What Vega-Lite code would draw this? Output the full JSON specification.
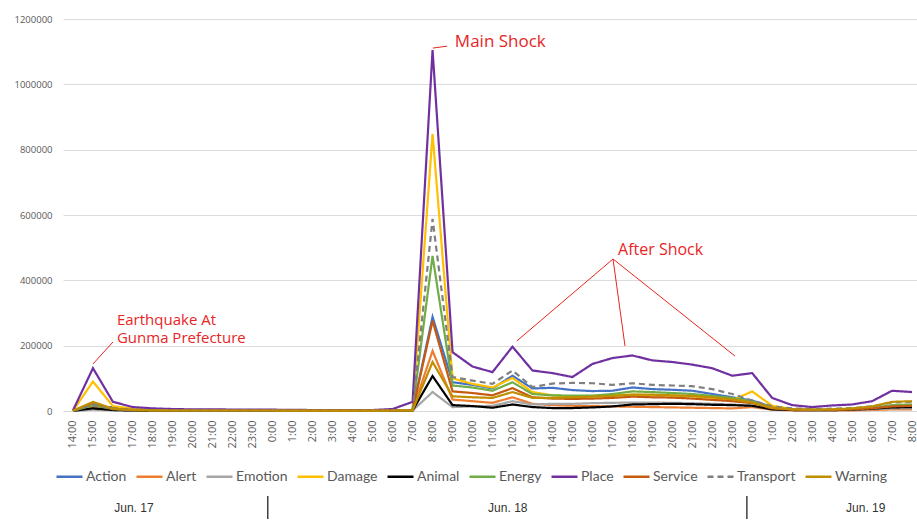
{
"$schema": "https://vega.github.io/schema/vega-lite/v6.json",
"padding": {"left": 5, "top": 14, "right": 0, "bottom": 0},
"background": "white",
"width": 854, "height": 392,
"config": {"view": {"stroke": null}, "font": "Open Sans",
  "legend": {"orient": "none", "legendX": -8, "legendY": 443, "direction": "horizontal", "columns": 10, "symbolType": "stroke", "symbolSize": 676, "symbolStrokeWidth": 2.5, "labelFont": "Lato", "labelFontSize": 14, "labelColor": "#595959", "columnPadding": 4, "labelOffset": 2}},
"layer": [
{
"data": {"values": [
{"t":"2018-06-17T14:00","s":"Action","v":500},{"t":"2018-06-17T15:00","s":"Action","v":12000},{"t":"2018-06-17T16:00","s":"Action","v":12000},{"t":"2018-06-17T17:00","s":"Action","v":4000},{"t":"2018-06-17T18:00","s":"Action","v":2500},{"t":"2018-06-17T19:00","s":"Action","v":2000},{"t":"2018-06-17T20:00","s":"Action","v":2000},{"t":"2018-06-17T21:00","s":"Action","v":2000},{"t":"2018-06-17T22:00","s":"Action","v":2000},{"t":"2018-06-17T23:00","s":"Action","v":2000},
{"t":"2018-06-18T00:00","s":"Action","v":2000},{"t":"2018-06-18T01:00","s":"Action","v":1500},{"t":"2018-06-18T02:00","s":"Action","v":1500},{"t":"2018-06-18T03:00","s":"Action","v":1500},{"t":"2018-06-18T04:00","s":"Action","v":1500},{"t":"2018-06-18T05:00","s":"Action","v":1500},{"t":"2018-06-18T06:00","s":"Action","v":2000},{"t":"2018-06-18T07:00","s":"Action","v":2000},{"t":"2018-06-18T08:00","s":"Action","v":288000},{"t":"2018-06-18T09:00","s":"Action","v":88000},{"t":"2018-06-18T10:00","s":"Action","v":80000},{"t":"2018-06-18T11:00","s":"Action","v":69000},{"t":"2018-06-18T12:00","s":"Action","v":108000},{"t":"2018-06-18T13:00","s":"Action","v":69000},{"t":"2018-06-18T14:00","s":"Action","v":71000},{"t":"2018-06-18T15:00","s":"Action","v":64000},{"t":"2018-06-18T16:00","s":"Action","v":61000},{"t":"2018-06-18T17:00","s":"Action","v":62000},{"t":"2018-06-18T18:00","s":"Action","v":72000},{"t":"2018-06-18T19:00","s":"Action","v":67000},{"t":"2018-06-18T20:00","s":"Action","v":65000},{"t":"2018-06-18T21:00","s":"Action","v":62000},{"t":"2018-06-18T22:00","s":"Action","v":52000},{"t":"2018-06-18T23:00","s":"Action","v":42000},
{"t":"2018-06-19T00:00","s":"Action","v":32000},{"t":"2018-06-19T01:00","s":"Action","v":12000},{"t":"2018-06-19T02:00","s":"Action","v":5000},{"t":"2018-06-19T03:00","s":"Action","v":3000},{"t":"2018-06-19T04:00","s":"Action","v":3000},{"t":"2018-06-19T05:00","s":"Action","v":4000},{"t":"2018-06-19T06:00","s":"Action","v":7000},{"t":"2018-06-19T07:00","s":"Action","v":12000},{"t":"2018-06-19T08:00","s":"Action","v":12000},

{"t":"2018-06-17T14:00","s":"Alert","v":300},{"t":"2018-06-17T15:00","s":"Alert","v":10000},{"t":"2018-06-17T16:00","s":"Alert","v":4000},{"t":"2018-06-17T17:00","s":"Alert","v":2000},{"t":"2018-06-17T18:00","s":"Alert","v":1500},{"t":"2018-06-17T19:00","s":"Alert","v":1000},{"t":"2018-06-17T20:00","s":"Alert","v":1000},{"t":"2018-06-17T21:00","s":"Alert","v":1000},{"t":"2018-06-17T22:00","s":"Alert","v":1000},{"t":"2018-06-17T23:00","s":"Alert","v":1000},
{"t":"2018-06-18T00:00","s":"Alert","v":1000},{"t":"2018-06-18T01:00","s":"Alert","v":800},{"t":"2018-06-18T02:00","s":"Alert","v":800},{"t":"2018-06-18T03:00","s":"Alert","v":800},{"t":"2018-06-18T04:00","s":"Alert","v":800},{"t":"2018-06-18T05:00","s":"Alert","v":800},{"t":"2018-06-18T06:00","s":"Alert","v":1000},{"t":"2018-06-18T07:00","s":"Alert","v":2000},{"t":"2018-06-18T08:00","s":"Alert","v":184000},{"t":"2018-06-18T09:00","s":"Alert","v":35000},{"t":"2018-06-18T10:00","s":"Alert","v":30000},{"t":"2018-06-18T11:00","s":"Alert","v":25000},{"t":"2018-06-18T12:00","s":"Alert","v":42000},{"t":"2018-06-18T13:00","s":"Alert","v":22000},{"t":"2018-06-18T14:00","s":"Alert","v":18000},{"t":"2018-06-18T15:00","s":"Alert","v":16000},{"t":"2018-06-18T16:00","s":"Alert","v":15000},{"t":"2018-06-18T17:00","s":"Alert","v":14000},{"t":"2018-06-18T18:00","s":"Alert","v":13000},{"t":"2018-06-18T19:00","s":"Alert","v":12000},{"t":"2018-06-18T20:00","s":"Alert","v":11000},{"t":"2018-06-18T21:00","s":"Alert","v":10000},{"t":"2018-06-18T22:00","s":"Alert","v":9000},{"t":"2018-06-18T23:00","s":"Alert","v":8000},
{"t":"2018-06-19T00:00","s":"Alert","v":12000},{"t":"2018-06-19T01:00","s":"Alert","v":4000},{"t":"2018-06-19T02:00","s":"Alert","v":2000},{"t":"2018-06-19T03:00","s":"Alert","v":1500},{"t":"2018-06-19T04:00","s":"Alert","v":1500},{"t":"2018-06-19T05:00","s":"Alert","v":2000},{"t":"2018-06-19T06:00","s":"Alert","v":3000},{"t":"2018-06-19T07:00","s":"Alert","v":5000},{"t":"2018-06-19T08:00","s":"Alert","v":5000},

{"t":"2018-06-17T14:00","s":"Emotion","v":200},{"t":"2018-06-17T15:00","s":"Emotion","v":4000},{"t":"2018-06-17T16:00","s":"Emotion","v":2000},{"t":"2018-06-17T17:00","s":"Emotion","v":1000},{"t":"2018-06-17T18:00","s":"Emotion","v":800},{"t":"2018-06-17T19:00","s":"Emotion","v":600},{"t":"2018-06-17T20:00","s":"Emotion","v":600},{"t":"2018-06-17T21:00","s":"Emotion","v":600},{"t":"2018-06-17T22:00","s":"Emotion","v":600},{"t":"2018-06-17T23:00","s":"Emotion","v":600},
{"t":"2018-06-18T00:00","s":"Emotion","v":500},{"t":"2018-06-18T01:00","s":"Emotion","v":500},{"t":"2018-06-18T02:00","s":"Emotion","v":500},{"t":"2018-06-18T03:00","s":"Emotion","v":500},{"t":"2018-06-18T04:00","s":"Emotion","v":500},{"t":"2018-06-18T05:00","s":"Emotion","v":500},{"t":"2018-06-18T06:00","s":"Emotion","v":800},{"t":"2018-06-18T07:00","s":"Emotion","v":1500},{"t":"2018-06-18T08:00","s":"Emotion","v":58000},{"t":"2018-06-18T09:00","s":"Emotion","v":12000},{"t":"2018-06-18T10:00","s":"Emotion","v":14000},{"t":"2018-06-18T11:00","s":"Emotion","v":16000},{"t":"2018-06-18T12:00","s":"Emotion","v":30000},{"t":"2018-06-18T13:00","s":"Emotion","v":20000},{"t":"2018-06-18T14:00","s":"Emotion","v":22000},{"t":"2018-06-18T15:00","s":"Emotion","v":22000},{"t":"2018-06-18T16:00","s":"Emotion","v":24000},{"t":"2018-06-18T17:00","s":"Emotion","v":25000},{"t":"2018-06-18T18:00","s":"Emotion","v":26000},{"t":"2018-06-18T19:00","s":"Emotion","v":26000},{"t":"2018-06-18T20:00","s":"Emotion","v":25000},{"t":"2018-06-18T21:00","s":"Emotion","v":24000},{"t":"2018-06-18T22:00","s":"Emotion","v":22000},{"t":"2018-06-18T23:00","s":"Emotion","v":20000},
{"t":"2018-06-19T00:00","s":"Emotion","v":16000},{"t":"2018-06-19T01:00","s":"Emotion","v":5000},{"t":"2018-06-19T02:00","s":"Emotion","v":3000},{"t":"2018-06-19T03:00","s":"Emotion","v":2000},{"t":"2018-06-19T04:00","s":"Emotion","v":2000},{"t":"2018-06-19T05:00","s":"Emotion","v":3000},{"t":"2018-06-19T06:00","s":"Emotion","v":5000},{"t":"2018-06-19T07:00","s":"Emotion","v":8000},{"t":"2018-06-19T08:00","s":"Emotion","v":8000},

{"t":"2018-06-17T14:00","s":"Damage","v":1000},{"t":"2018-06-17T15:00","s":"Damage","v":90000},{"t":"2018-06-17T16:00","s":"Damage","v":15000},{"t":"2018-06-17T17:00","s":"Damage","v":7000},{"t":"2018-06-17T18:00","s":"Damage","v":4000},{"t":"2018-06-17T19:00","s":"Damage","v":3000},{"t":"2018-06-17T20:00","s":"Damage","v":2500},{"t":"2018-06-17T21:00","s":"Damage","v":2500},{"t":"2018-06-17T22:00","s":"Damage","v":2000},{"t":"2018-06-17T23:00","s":"Damage","v":2000},
{"t":"2018-06-18T00:00","s":"Damage","v":2000},{"t":"2018-06-18T01:00","s":"Damage","v":2000},{"t":"2018-06-18T02:00","s":"Damage","v":2000},{"t":"2018-06-18T03:00","s":"Damage","v":2000},{"t":"2018-06-18T04:00","s":"Damage","v":2000},{"t":"2018-06-18T05:00","s":"Damage","v":2000},{"t":"2018-06-18T06:00","s":"Damage","v":2000},{"t":"2018-06-18T07:00","s":"Damage","v":3000},{"t":"2018-06-18T08:00","s":"Damage","v":848000},{"t":"2018-06-18T09:00","s":"Damage","v":100000},{"t":"2018-06-18T10:00","s":"Damage","v":83000},{"t":"2018-06-18T11:00","s":"Damage","v":72000},{"t":"2018-06-18T12:00","s":"Damage","v":101000},{"t":"2018-06-18T13:00","s":"Damage","v":58000},{"t":"2018-06-18T14:00","s":"Damage","v":48000},{"t":"2018-06-18T15:00","s":"Damage","v":43000},{"t":"2018-06-18T16:00","s":"Damage","v":46000},{"t":"2018-06-18T17:00","s":"Damage","v":48000},{"t":"2018-06-18T18:00","s":"Damage","v":50000},{"t":"2018-06-18T19:00","s":"Damage","v":48000},{"t":"2018-06-18T20:00","s":"Damage","v":47000},{"t":"2018-06-18T21:00","s":"Damage","v":45000},{"t":"2018-06-18T22:00","s":"Damage","v":40000},{"t":"2018-06-18T23:00","s":"Damage","v":33000},
{"t":"2018-06-19T00:00","s":"Damage","v":60000},{"t":"2018-06-19T01:00","s":"Damage","v":16000},{"t":"2018-06-19T02:00","s":"Damage","v":6000},{"t":"2018-06-19T03:00","s":"Damage","v":4000},{"t":"2018-06-19T04:00","s":"Damage","v":4000},{"t":"2018-06-19T05:00","s":"Damage","v":5000},{"t":"2018-06-19T06:00","s":"Damage","v":8000},{"t":"2018-06-19T07:00","s":"Damage","v":14000},{"t":"2018-06-19T08:00","s":"Damage","v":14000},

{"t":"2018-06-17T14:00","s":"Animal","v":300},{"t":"2018-06-17T15:00","s":"Animal","v":8000},{"t":"2018-06-17T16:00","s":"Animal","v":3000},{"t":"2018-06-17T17:00","s":"Animal","v":1500},{"t":"2018-06-17T18:00","s":"Animal","v":1000},{"t":"2018-06-17T19:00","s":"Animal","v":800},{"t":"2018-06-17T20:00","s":"Animal","v":800},{"t":"2018-06-17T21:00","s":"Animal","v":800},{"t":"2018-06-17T22:00","s":"Animal","v":800},{"t":"2018-06-17T23:00","s":"Animal","v":800},
{"t":"2018-06-18T00:00","s":"Animal","v":700},{"t":"2018-06-18T01:00","s":"Animal","v":600},{"t":"2018-06-18T02:00","s":"Animal","v":600},{"t":"2018-06-18T03:00","s":"Animal","v":600},{"t":"2018-06-18T04:00","s":"Animal","v":600},{"t":"2018-06-18T05:00","s":"Animal","v":600},{"t":"2018-06-18T06:00","s":"Animal","v":800},{"t":"2018-06-18T07:00","s":"Animal","v":1500},{"t":"2018-06-18T08:00","s":"Animal","v":107000},{"t":"2018-06-18T09:00","s":"Animal","v":18000},{"t":"2018-06-18T10:00","s":"Animal","v":15000},{"t":"2018-06-18T11:00","s":"Animal","v":10000},{"t":"2018-06-18T12:00","s":"Animal","v":20000},{"t":"2018-06-18T13:00","s":"Animal","v":12000},{"t":"2018-06-18T14:00","s":"Animal","v":9000},{"t":"2018-06-18T15:00","s":"Animal","v":9000},{"t":"2018-06-18T16:00","s":"Animal","v":11000},{"t":"2018-06-18T17:00","s":"Animal","v":14000},{"t":"2018-06-18T18:00","s":"Animal","v":20000},{"t":"2018-06-18T19:00","s":"Animal","v":21000},{"t":"2018-06-18T20:00","s":"Animal","v":22000},{"t":"2018-06-18T21:00","s":"Animal","v":21000},{"t":"2018-06-18T22:00","s":"Animal","v":19000},{"t":"2018-06-18T23:00","s":"Animal","v":18000},
{"t":"2018-06-19T00:00","s":"Animal","v":16000},{"t":"2018-06-19T01:00","s":"Animal","v":5000},{"t":"2018-06-19T02:00","s":"Animal","v":3000},{"t":"2018-06-19T03:00","s":"Animal","v":2500},{"t":"2018-06-19T04:00","s":"Animal","v":2500},{"t":"2018-06-19T05:00","s":"Animal","v":4000},{"t":"2018-06-19T06:00","s":"Animal","v":7000},{"t":"2018-06-19T07:00","s":"Animal","v":11000},{"t":"2018-06-19T08:00","s":"Animal","v":12000},

{"t":"2018-06-17T14:00","s":"Energy","v":500},{"t":"2018-06-17T15:00","s":"Energy","v":18000},{"t":"2018-06-17T16:00","s":"Energy","v":6000},{"t":"2018-06-17T17:00","s":"Energy","v":3000},{"t":"2018-06-17T18:00","s":"Energy","v":2000},{"t":"2018-06-17T19:00","s":"Energy","v":1500},{"t":"2018-06-17T20:00","s":"Energy","v":1500},{"t":"2018-06-17T21:00","s":"Energy","v":1500},{"t":"2018-06-17T22:00","s":"Energy","v":1500},{"t":"2018-06-17T23:00","s":"Energy","v":1500},
{"t":"2018-06-18T00:00","s":"Energy","v":1500},{"t":"2018-06-18T01:00","s":"Energy","v":1200},{"t":"2018-06-18T02:00","s":"Energy","v":1200},{"t":"2018-06-18T03:00","s":"Energy","v":1200},{"t":"2018-06-18T04:00","s":"Energy","v":1200},{"t":"2018-06-18T05:00","s":"Energy","v":1200},{"t":"2018-06-18T06:00","s":"Energy","v":1500},{"t":"2018-06-18T07:00","s":"Energy","v":2000},{"t":"2018-06-18T08:00","s":"Energy","v":475000},{"t":"2018-06-18T09:00","s":"Energy","v":78000},{"t":"2018-06-18T10:00","s":"Energy","v":72000},{"t":"2018-06-18T11:00","s":"Energy","v":62000},{"t":"2018-06-18T12:00","s":"Energy","v":88000},{"t":"2018-06-18T13:00","s":"Energy","v":52000},{"t":"2018-06-18T14:00","s":"Energy","v":48000},{"t":"2018-06-18T15:00","s":"Energy","v":47000},{"t":"2018-06-18T16:00","s":"Energy","v":47000},{"t":"2018-06-18T17:00","s":"Energy","v":52000},{"t":"2018-06-18T18:00","s":"Energy","v":60000},{"t":"2018-06-18T19:00","s":"Energy","v":58000},{"t":"2018-06-18T20:00","s":"Energy","v":55000},{"t":"2018-06-18T21:00","s":"Energy","v":52000},{"t":"2018-06-18T22:00","s":"Energy","v":46000},{"t":"2018-06-18T23:00","s":"Energy","v":40000},
{"t":"2018-06-19T00:00","s":"Energy","v":30000},{"t":"2018-06-19T01:00","s":"Energy","v":10000},{"t":"2018-06-19T02:00","s":"Energy","v":5000},{"t":"2018-06-19T03:00","s":"Energy","v":4000},{"t":"2018-06-19T04:00","s":"Energy","v":4000},{"t":"2018-06-19T05:00","s":"Energy","v":6000},{"t":"2018-06-19T06:00","s":"Energy","v":10000},{"t":"2018-06-19T07:00","s":"Energy","v":18000},{"t":"2018-06-19T08:00","s":"Energy","v":20000},

{"t":"2018-06-17T14:00","s":"Place","v":2000},{"t":"2018-06-17T15:00","s":"Place","v":131000},{"t":"2018-06-17T16:00","s":"Place","v":28000},{"t":"2018-06-17T17:00","s":"Place","v":12000},{"t":"2018-06-17T18:00","s":"Place","v":8000},{"t":"2018-06-17T19:00","s":"Place","v":6000},{"t":"2018-06-17T20:00","s":"Place","v":5000},{"t":"2018-06-17T21:00","s":"Place","v":5000},{"t":"2018-06-17T22:00","s":"Place","v":4500},{"t":"2018-06-17T23:00","s":"Place","v":4000},
{"t":"2018-06-18T00:00","s":"Place","v":4000},{"t":"2018-06-18T01:00","s":"Place","v":3500},{"t":"2018-06-18T02:00","s":"Place","v":3000},{"t":"2018-06-18T03:00","s":"Place","v":2500},{"t":"2018-06-18T04:00","s":"Place","v":2500},{"t":"2018-06-18T05:00","s":"Place","v":3000},{"t":"2018-06-18T06:00","s":"Place","v":6000},{"t":"2018-06-18T07:00","s":"Place","v":28000},{"t":"2018-06-18T08:00","s":"Place","v":1105000},{"t":"2018-06-18T09:00","s":"Place","v":180000},{"t":"2018-06-18T10:00","s":"Place","v":136000},{"t":"2018-06-18T11:00","s":"Place","v":119000},{"t":"2018-06-18T12:00","s":"Place","v":197000},{"t":"2018-06-18T13:00","s":"Place","v":124000},{"t":"2018-06-18T14:00","s":"Place","v":116000},{"t":"2018-06-18T15:00","s":"Place","v":104000},{"t":"2018-06-18T16:00","s":"Place","v":144000},{"t":"2018-06-18T17:00","s":"Place","v":162000},{"t":"2018-06-18T18:00","s":"Place","v":170000},{"t":"2018-06-18T19:00","s":"Place","v":155000},{"t":"2018-06-18T20:00","s":"Place","v":150000},{"t":"2018-06-18T21:00","s":"Place","v":142000},{"t":"2018-06-18T22:00","s":"Place","v":131000},{"t":"2018-06-18T23:00","s":"Place","v":108000},
{"t":"2018-06-19T00:00","s":"Place","v":116000},{"t":"2018-06-19T01:00","s":"Place","v":40000},{"t":"2018-06-19T02:00","s":"Place","v":18000},{"t":"2018-06-19T03:00","s":"Place","v":12000},{"t":"2018-06-19T04:00","s":"Place","v":17000},{"t":"2018-06-19T05:00","s":"Place","v":20000},{"t":"2018-06-19T06:00","s":"Place","v":30000},{"t":"2018-06-19T07:00","s":"Place","v":62000},{"t":"2018-06-19T08:00","s":"Place","v":58000},

{"t":"2018-06-17T14:00","s":"Service","v":500},{"t":"2018-06-17T15:00","s":"Service","v":25000},{"t":"2018-06-17T16:00","s":"Service","v":6000},{"t":"2018-06-17T17:00","s":"Service","v":3000},{"t":"2018-06-17T18:00","s":"Service","v":2000},{"t":"2018-06-17T19:00","s":"Service","v":1500},{"t":"2018-06-17T20:00","s":"Service","v":1500},{"t":"2018-06-17T21:00","s":"Service","v":1500},{"t":"2018-06-17T22:00","s":"Service","v":1500},{"t":"2018-06-17T23:00","s":"Service","v":1500},
{"t":"2018-06-18T00:00","s":"Service","v":1500},{"t":"2018-06-18T01:00","s":"Service","v":1200},{"t":"2018-06-18T02:00","s":"Service","v":1200},{"t":"2018-06-18T03:00","s":"Service","v":1200},{"t":"2018-06-18T04:00","s":"Service","v":1200},{"t":"2018-06-18T05:00","s":"Service","v":1200},{"t":"2018-06-18T06:00","s":"Service","v":1500},{"t":"2018-06-18T07:00","s":"Service","v":2000},{"t":"2018-06-18T08:00","s":"Service","v":276000},{"t":"2018-06-18T09:00","s":"Service","v":60000},{"t":"2018-06-18T10:00","s":"Service","v":55000},{"t":"2018-06-18T11:00","s":"Service","v":48000},{"t":"2018-06-18T12:00","s":"Service","v":70000},{"t":"2018-06-18T13:00","s":"Service","v":42000},{"t":"2018-06-18T14:00","s":"Service","v":38000},{"t":"2018-06-18T15:00","s":"Service","v":37000},{"t":"2018-06-18T16:00","s":"Service","v":38000},{"t":"2018-06-18T17:00","s":"Service","v":40000},{"t":"2018-06-18T18:00","s":"Service","v":44000},{"t":"2018-06-18T19:00","s":"Service","v":42000},{"t":"2018-06-18T20:00","s":"Service","v":41000},{"t":"2018-06-18T21:00","s":"Service","v":38000},{"t":"2018-06-18T22:00","s":"Service","v":34000},{"t":"2018-06-18T23:00","s":"Service","v":30000},
{"t":"2018-06-19T00:00","s":"Service","v":24000},{"t":"2018-06-19T01:00","s":"Service","v":8000},{"t":"2018-06-19T02:00","s":"Service","v":4000},{"t":"2018-06-19T03:00","s":"Service","v":3000},{"t":"2018-06-19T04:00","s":"Service","v":3000},{"t":"2018-06-19T05:00","s":"Service","v":5000},{"t":"2018-06-19T06:00","s":"Service","v":8000},{"t":"2018-06-19T07:00","s":"Service","v":14000},{"t":"2018-06-19T08:00","s":"Service","v":16000},

{"t":"2018-06-17T14:00","s":"Transport","v":1000},{"t":"2018-06-17T15:00","s":"Transport","v":20000},{"t":"2018-06-17T16:00","s":"Transport","v":8000},{"t":"2018-06-17T17:00","s":"Transport","v":4000},{"t":"2018-06-17T18:00","s":"Transport","v":3000},{"t":"2018-06-17T19:00","s":"Transport","v":2500},{"t":"2018-06-17T20:00","s":"Transport","v":2000},{"t":"2018-06-17T21:00","s":"Transport","v":2000},{"t":"2018-06-17T22:00","s":"Transport","v":2000},{"t":"2018-06-17T23:00","s":"Transport","v":2000},
{"t":"2018-06-18T00:00","s":"Transport","v":2000},{"t":"2018-06-18T01:00","s":"Transport","v":2000},{"t":"2018-06-18T02:00","s":"Transport","v":2000},{"t":"2018-06-18T03:00","s":"Transport","v":2000},{"t":"2018-06-18T04:00","s":"Transport","v":2000},{"t":"2018-06-18T05:00","s":"Transport","v":2000},{"t":"2018-06-18T06:00","s":"Transport","v":2000},{"t":"2018-06-18T07:00","s":"Transport","v":3000},{"t":"2018-06-18T08:00","s":"Transport","v":588000},{"t":"2018-06-18T09:00","s":"Transport","v":104000},{"t":"2018-06-18T10:00","s":"Transport","v":93000},{"t":"2018-06-18T11:00","s":"Transport","v":83000},{"t":"2018-06-18T12:00","s":"Transport","v":124000},{"t":"2018-06-18T13:00","s":"Transport","v":73000},{"t":"2018-06-18T14:00","s":"Transport","v":84000},{"t":"2018-06-18T15:00","s":"Transport","v":86000},{"t":"2018-06-18T16:00","s":"Transport","v":85000},{"t":"2018-06-18T17:00","s":"Transport","v":80000},{"t":"2018-06-18T18:00","s":"Transport","v":85000},{"t":"2018-06-18T19:00","s":"Transport","v":80000},{"t":"2018-06-18T20:00","s":"Transport","v":78000},{"t":"2018-06-18T21:00","s":"Transport","v":76000},{"t":"2018-06-18T22:00","s":"Transport","v":67000},{"t":"2018-06-18T23:00","s":"Transport","v":52000},
{"t":"2018-06-19T00:00","s":"Transport","v":32000},{"t":"2018-06-19T01:00","s":"Transport","v":14000},{"t":"2018-06-19T02:00","s":"Transport","v":8000},{"t":"2018-06-19T03:00","s":"Transport","v":6000},{"t":"2018-06-19T04:00","s":"Transport","v":7000},{"t":"2018-06-19T05:00","s":"Transport","v":9000},{"t":"2018-06-19T06:00","s":"Transport","v":14000},{"t":"2018-06-19T07:00","s":"Transport","v":26000},{"t":"2018-06-19T08:00","s":"Transport","v":28000},

{"t":"2018-06-17T14:00","s":"Warning","v":500},{"t":"2018-06-17T15:00","s":"Warning","v":28000},{"t":"2018-06-17T16:00","s":"Warning","v":7000},{"t":"2018-06-17T17:00","s":"Warning","v":3000},{"t":"2018-06-17T18:00","s":"Warning","v":2000},{"t":"2018-06-17T19:00","s":"Warning","v":1500},{"t":"2018-06-17T20:00","s":"Warning","v":1500},{"t":"2018-06-17T21:00","s":"Warning","v":1500},{"t":"2018-06-17T22:00","s":"Warning","v":1500},{"t":"2018-06-17T23:00","s":"Warning","v":1500},
{"t":"2018-06-18T00:00","s":"Warning","v":1500},{"t":"2018-06-18T01:00","s":"Warning","v":1200},{"t":"2018-06-18T02:00","s":"Warning","v":1200},{"t":"2018-06-18T03:00","s":"Warning","v":1200},{"t":"2018-06-18T04:00","s":"Warning","v":1200},{"t":"2018-06-18T05:00","s":"Warning","v":1200},{"t":"2018-06-18T06:00","s":"Warning","v":1500},{"t":"2018-06-18T07:00","s":"Warning","v":2000},{"t":"2018-06-18T08:00","s":"Warning","v":150000},{"t":"2018-06-18T09:00","s":"Warning","v":45000},{"t":"2018-06-18T10:00","s":"Warning","v":42000},{"t":"2018-06-18T11:00","s":"Warning","v":40000},{"t":"2018-06-18T12:00","s":"Warning","v":58000},{"t":"2018-06-18T13:00","s":"Warning","v":40000},{"t":"2018-06-18T14:00","s":"Warning","v":40000},{"t":"2018-06-18T15:00","s":"Warning","v":42000},{"t":"2018-06-18T16:00","s":"Warning","v":44000},{"t":"2018-06-18T17:00","s":"Warning","v":46000},{"t":"2018-06-18T18:00","s":"Warning","v":50000},{"t":"2018-06-18T19:00","s":"Warning","v":50000},{"t":"2018-06-18T20:00","s":"Warning","v":48000},{"t":"2018-06-18T21:00","s":"Warning","v":46000},{"t":"2018-06-18T22:00","s":"Warning","v":42000},{"t":"2018-06-18T23:00","s":"Warning","v":36000},
{"t":"2018-06-19T00:00","s":"Warning","v":26000},{"t":"2018-06-19T01:00","s":"Warning","v":10000},{"t":"2018-06-19T02:00","s":"Warning","v":5000},{"t":"2018-06-19T03:00","s":"Warning","v":4000},{"t":"2018-06-19T04:00","s":"Warning","v":5000},{"t":"2018-06-19T05:00","s":"Warning","v":8000},{"t":"2018-06-19T06:00","s":"Warning","v":14000},{"t":"2018-06-19T07:00","s":"Warning","v":28000},{"t":"2018-06-19T08:00","s":"Warning","v":30000}
]},
"mark": {"type": "line", "strokeWidth": 2.2},
"encoding": {
  "x": {"field": "t", "type": "temporal", "title": null,
    "scale": {"domain": [{"year": 2018, "month": 6, "date": 17, "hours": 13, "minutes": 30}, {"year": 2018, "month": 6, "date": 19, "hours": 8, "minutes": 15}]},
    "axis": {"format": "%-H:%M", "tickCount": 43, "labelAngle": -90, "labelFontSize": 11, "labelColor": "#595959", "labelPadding": 9, "ticks": false, "domainColor": "#d9d9d9", "grid": false, "labelOverlap": false, "labelFlush": false}},
  "y": {"field": "v", "type": "quantitative", "title": null,
    "scale": {"domain": [0, 1200000], "nice": false},
    "axis": {"values": [0, 200000, 400000, 600000, 800000, 1000000, 1200000], "format": "d", "domain": false, "ticks": false, "labelPadding": 11, "labelFontSize": 9.5, "labelColor": "#595959", "gridColor": "#dcdcdc", "minExtent": 58, "maxExtent": 58}},
  "color": {"field": "s", "type": "nominal", "title": null,
    "scale": {"domain": ["Action", "Alert", "Emotion", "Damage", "Animal", "Energy", "Place", "Service", "Transport", "Warning"],
      "range": ["#4472C4", "#ED7D31", "#A5A5A5", "#FFC000", "#000000", "#70AD47", "#7030A0", "#C55A11", "#7F7F7F", "#BF8F00"]}},
  "strokeDash": {"field": "s", "type": "nominal", "title": null,
    "scale": {"domain": ["Action", "Alert", "Emotion", "Damage", "Animal", "Energy", "Place", "Service", "Transport", "Warning"],
      "range": [[1, 0], [1, 0], [1, 0], [1, 0], [1, 0], [1, 0], [1, 0], [1, 0], [6, 4], [1, 0]]}}
}
},
{
"data": {"values": [
{"x": "2018-06-18T08:01", "y": 1111000, "x2": "2018-06-18T08:44", "y2": 1117000},
{"x": "2018-06-17T15:00", "y": 143900, "x2": "2018-06-17T16:00", "y2": 211200},
{"x": "2018-06-18T17:02", "y": 465300, "x2": "2018-06-18T12:13", "y2": 214300},
{"x": "2018-06-18T17:02", "y": 465300, "x2": "2018-06-18T17:38", "y2": 199000},
{"x": "2018-06-18T17:02", "y": 465300, "x2": "2018-06-18T23:08", "y2": 168400}
]},
"mark": {"type": "rule", "color": "#E8251F", "strokeWidth": 1},
"encoding": {
  "x": {"field": "x", "type": "temporal", "title": null},
  "x2": {"field": "x2"},
  "y": {"field": "y", "type": "quantitative", "title": null},
  "y2": {"field": "y2"}
}
},
{
"data": {"values": [
{"x": "2018-06-18T09:07", "y": 1129500, "label": "Main Shock", "size": 17},
{"x": "2018-06-17T16:12", "y": 278500, "label": "Earthquake At\nGunma Prefecture", "size": 15},
{"x": "2018-06-18T17:17", "y": 492800, "label": "After Shock", "size": 16}
]},
"mark": {"type": "text", "align": "left", "baseline": "middle", "color": "#E8251F", "font": "Open Sans", "lineBreak": "\n", "lineHeight": 18},
"encoding": {
  "x": {"field": "x", "type": "temporal", "title": null},
  "y": {"field": "y", "type": "quantitative", "title": null},
  "size": {"field": "size", "type": "quantitative", "scale": null, "legend": null},
  "text": {"field": "label"}
}
},
{
"data": {"values": [
{"t": "2018-06-17T17:03", "y": -296900, "label": "Jun. 17"},
{"t": "2018-06-18T11:46", "y": -296900, "label": "Jun. 18"},
{"t": "2018-06-19T05:41", "y": -296900, "label": "Jun. 19"}
]},
"mark": {"type": "text", "font": "Liberation Sans", "fontSize": 12, "color": "#333333", "baseline": "middle", "clip": false},
"encoding": {
  "x": {"field": "t", "type": "temporal", "title": null},
  "y": {"field": "y", "type": "quantitative", "title": null},
  "text": {"field": "label"}
}
},
{
"data": {"values": [
{"t": "2018-06-17T23:45", "y": -260200, "y2": -330600},
{"t": "2018-06-18T23:44", "y": -260200, "y2": -330600}
]},
"mark": {"type": "rule", "color": "#404040", "strokeWidth": 1.5, "clip": false},
"encoding": {
  "x": {"field": "t", "type": "temporal", "title": null},
  "y": {"field": "y", "type": "quantitative", "title": null},
  "y2": {"field": "y2"}
}
}
]
}
